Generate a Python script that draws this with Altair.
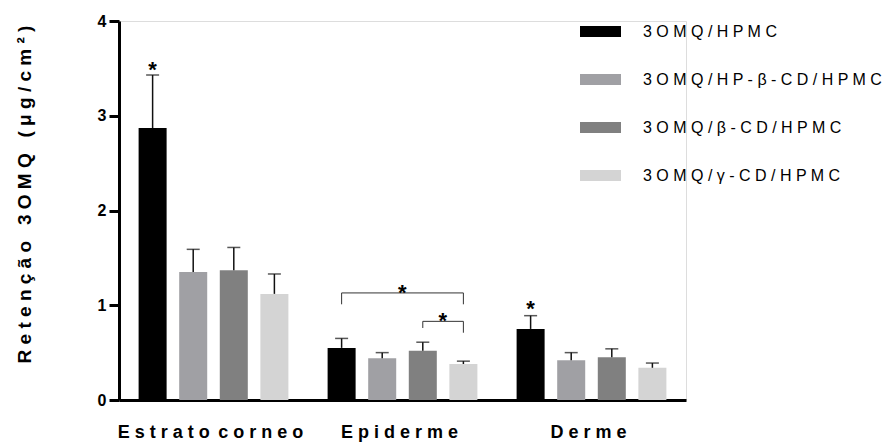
import altair as alt
import pandas as pd

# ---- data ----
tissues = ["Estrato corneo", "Epiderme", "Derme"]
series = ["3OMQ/HPMC", "3OMQ/HP-β-CD/HPMC", "3OMQ/β-CD/HPMC", "3OMQ/γ-CD/HPMC"]
colors = ["#000000", "#a0a0a4", "#808080", "#d4d4d4"]

mean_hpmc = [2.87, 0.55, 0.75]
mean_hpbcd = [1.35, 0.44, 0.42]
mean_bcd = [1.37, 0.52, 0.45]
mean_gcd = [1.12, 0.38, 0.34]

sd_hpmc = [0.56, 0.10, 0.14]
sd_hpbcd = [0.24, 0.06, 0.08]
sd_bcd = [0.24, 0.09, 0.09]
sd_gcd = [0.21, 0.03, 0.05]

# stars directly above bars
star_tissue = ["Estrato corneo", "Derme"]
star_series = ["3OMQ/HPMC", "3OMQ/HPMC"]
star_value = [3.55, 1.02]

# significance brackets (Epiderme)
br_id = [1, 1, 1, 1, 2, 2, 2, 2]
br_order = [0, 1, 2, 3, 0, 1, 2, 3]
br_series = ["3OMQ/HPMC", "3OMQ/HPMC", "3OMQ/γ-CD/HPMC", "3OMQ/γ-CD/HPMC",
             "3OMQ/β-CD/HPMC", "3OMQ/β-CD/HPMC", "3OMQ/γ-CD/HPMC", "3OMQ/γ-CD/HPMC"]
br_value = [1.01, 1.13, 1.13, 1.01, 0.76, 0.83, 0.83, 0.71]

# stars centred on brackets
bstar_series = ["3OMQ/HP-β-CD/HPMC", "3OMQ/β-CD/HPMC"]
bstar_value = [1.19, 0.90]

y_title = "R e t e n ç ã o\u00a0\u00a0\u00a03 O M Q\u00a0\u00a0\u00a0( μ g / c m ² )"

# ---- tables ----
means = [mean_hpmc, mean_hpbcd, mean_bcd, mean_gcd]
sds = [sd_hpmc, sd_hpbcd, sd_bcd, sd_gcd]
rows = []
for si, s in enumerate(series):
    for ti, t in enumerate(tissues):
        rows.append({"tissue": t, "series": s, "mean": means[si][ti],
                     "upper": means[si][ti] + sds[si][ti]})
bars_df = pd.DataFrame(rows)
stars_df = pd.DataFrame({"tissue": star_tissue, "series": star_series, "v": star_value})
br_df = pd.DataFrame({"tissue": ["Epiderme"] * len(br_id), "id": br_id, "o": br_order,
                      "series": br_series, "v": br_value})
bstar_df = pd.DataFrame({"tissue": ["Epiderme"] * 2, "series": bstar_series, "v": bstar_value})

FONT = "Liberation Sans"

# spread the letters of the category labels (the reference uses wide letter spacing)
x_label_expr = ("replace(join(split(replace(datum.label, ' ', '|'), ''), ' '), ' | ', "
                "'\u00a0\u2009')")

x_enc = alt.X("tissue:N", scale=alt.Scale(domain=tissues, paddingInner=0, paddingOuter=0),
              axis=alt.Axis(title=None, ticks=False, tickSize=0, labelFont=FONT,
                            labelFontSize=18, labelFontWeight="bold", labelColor="#000000",
                            labelPadding=23, labelAngle=0, labelOffset=-3, labelLimit=500,
                            labelOverlap=False, domainColor="#000000", domainWidth=3,
                            labelExpr=x_label_expr))
xo_enc = alt.XOffset("series:N", scale=alt.Scale(domain=series, paddingInner=0.31, paddingOuter=0.483))
y_scale = alt.Scale(domain=[0, 4], nice=False)

bars = alt.Chart(bars_df).mark_bar().encode(
    x=x_enc,
    xOffset=xo_enc,
    y=alt.Y("mean:Q", scale=y_scale,
            axis=alt.Axis(values=[0, 1, 2, 3, 4], format="d", grid=False,
                          domainColor="#000000", domainWidth=3, tickColor="#000000",
                          tickWidth=3, tickSize=10, labelFont=FONT, labelFontSize=16,
                          labelFontWeight="bold", labelColor="#000000", labelPadding=3,
                          title=y_title, titleFont=FONT, titleFontSize=19,
                          titleFontWeight="bold", titleColor="#000000",
                          titleX=-95, titleY=173, titleAlign="center",
                          titleBaseline="middle")),
    color=alt.Color("series:N", scale=alt.Scale(domain=series, range=colors),
                    legend=alt.Legend(title=None, orient="none", legendX=461, legendY=-10,
                                      symbolType="M-1,-0.27H1V0.27H-1Z", symbolSize=1681,
                                      symbolStrokeWidth=0, labelFont=FONT, labelFontSize=16,
                                      labelColor="#000000", labelOffset=22, rowPadding=19,
                                      padding=0, labelLimit=400,
                                      labelExpr="join(split(datum.label, ''), ' ')")),
)

err = alt.Chart(bars_df).mark_rule(color="#111111", strokeWidth=1.5).encode(
    x=alt.X("tissue:N"), xOffset="series:N", y="mean:Q", y2="upper:Q")
caps = alt.Chart(bars_df).mark_tick(color="#111111", size=13, thickness=1.5,
                                    orient="horizontal").encode(
    x=alt.X("tissue:N"), xOffset="series:N", y="upper:Q")

stars = alt.Chart(stars_df).mark_text(text="*", font=FONT, fontSize=22, fontWeight="bold",
                                      color="#000000", baseline="alphabetic", dy=13).encode(
    x=alt.X("tissue:N"), xOffset="series:N", y="v:Q")

brackets = alt.Chart(br_df).mark_line(color="#333333", strokeWidth=1).encode(
    x=alt.X("tissue:N"), xOffset="series:N", y="v:Q", detail="id:N", order="o:Q")

bstars = alt.Chart(bstar_df).mark_text(text="*", font=FONT, fontSize=22, fontWeight="bold",
                                       color="#000000", baseline="alphabetic", dy=13,
                                       dx=20).encode(
    x=alt.X("tissue:N"), xOffset="series:N", y="v:Q")

chart = alt.layer(bars, err, caps, stars, brackets, bstars).properties(
    width=567, height=379,
    autosize=alt.AutoSizeParams(type="none"),
    padding={"left": 119, "top": 21, "right": 209, "bottom": 43},
).configure_view(stroke=None).configure(background="#ffffff")

chart.save("out.html", embed_options={"renderer": "svg", "actions": False})
